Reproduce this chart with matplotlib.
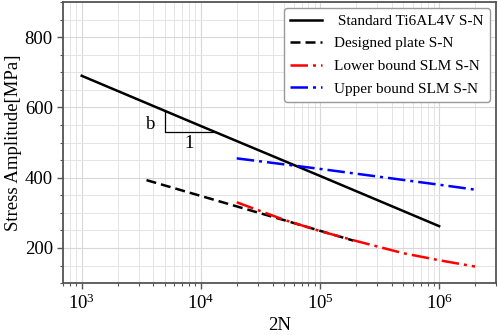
import matplotlib
matplotlib.use("Agg")
import matplotlib.pyplot as plt
from matplotlib.ticker import LogLocator, MultipleLocator

plt.rcParams["font.family"] = ["Liberation Serif", "DejaVu Serif"]
plt.rcParams["mathtext.fontset"] = "stix"

# S-N curves (2N, stress amplitude in MPa)
std_n = [1e3, 1e4, 1e5, 1e6]
std_s = [690, 547, 405, 262]

plate_n = [3.5e3, 1e4, 5e4, 1.9e5]
plate_s = [393, 348, 279, 221]

lower_n = [2e4, 5e4, 1e5, 2e5, 5e5, 1e6, 2e6]
lower_s = [330, 280, 248, 220, 185, 165, 147]

upper_n = [2e4, 1e5, 1e6, 2e6]
upper_s = [455, 425, 380, 366]

# slope triangle ("b" over "1")
tri_n = [5e3, 5e3, 1.32e4]
tri_s = [590, 530, 530]

labels = [" Standard Ti6AL4V S-N", "Designed plate S-N",
          "Lower bound SLM S-N", "Upper bound SLM S-N"]

fig = plt.figure(figsize=(4.98, 3.35), dpi=100)
ax = fig.add_axes([0.127, 0.155, 0.869, 0.839])

ax.plot(std_n, std_s, color="black", lw=1.8, label=labels[0])
ax.plot(plate_n, plate_s, color="black", lw=1.8, ls=(0, (4, 2)), label=labels[1])
ax.plot(lower_n, lower_s, color="red", lw=1.8, ls=(0, (7, 2, 1.2, 2)), label=labels[2])
ax.plot(upper_n, upper_s, color="blue", lw=1.8, ls=(0, (7, 2, 1.2, 2)), label=labels[3])
ax.plot(tri_n, tri_s, color="black", lw=0.9)

ax.text(3.8e3, 552, "b", fontsize=13.5, ha="center", va="center")
ax.text(8.0e3, 496, "1", fontsize=13.5, ha="center", va="center")

ax.set_xscale("log")
ax.set_xlim(700, 3e6)
ax.set_ylim(100, 900)
ax.yaxis.set_major_locator(MultipleLocator(200))
ax.yaxis.set_minor_locator(MultipleLocator(50))
ax.xaxis.set_minor_locator(LogLocator(base=10, subs=range(2, 10), numticks=20))

ax.grid(which="major", color="#d8d8d8", lw=0.8)
ax.grid(which="minor", color="#e4e4e4", lw=0.7)
ax.set_axisbelow(True)

for sp in ax.spines.values():
    sp.set_color("#555555")
    sp.set_linewidth(1.3)

ax.tick_params(which="major", length=4, width=1, colors="#555555", labelcolor="black", labelsize=13.5)
ax.tick_params(which="minor", length=2, width=0.8, colors="#555555")

ax.set_xlabel("2N", fontsize=13.5, labelpad=3)
ax.set_ylabel("Stress Amplitude[MPa]", fontsize=13.5, labelpad=2)

leg = ax.legend(loc="upper right", fontsize=11, handlelength=2.1,
                labelspacing=0.58, borderaxespad=0.4, framealpha=1, fancybox=True)
leg.get_frame().set_edgecolor("#999999")

fig.savefig("out.png", dpi=100)
